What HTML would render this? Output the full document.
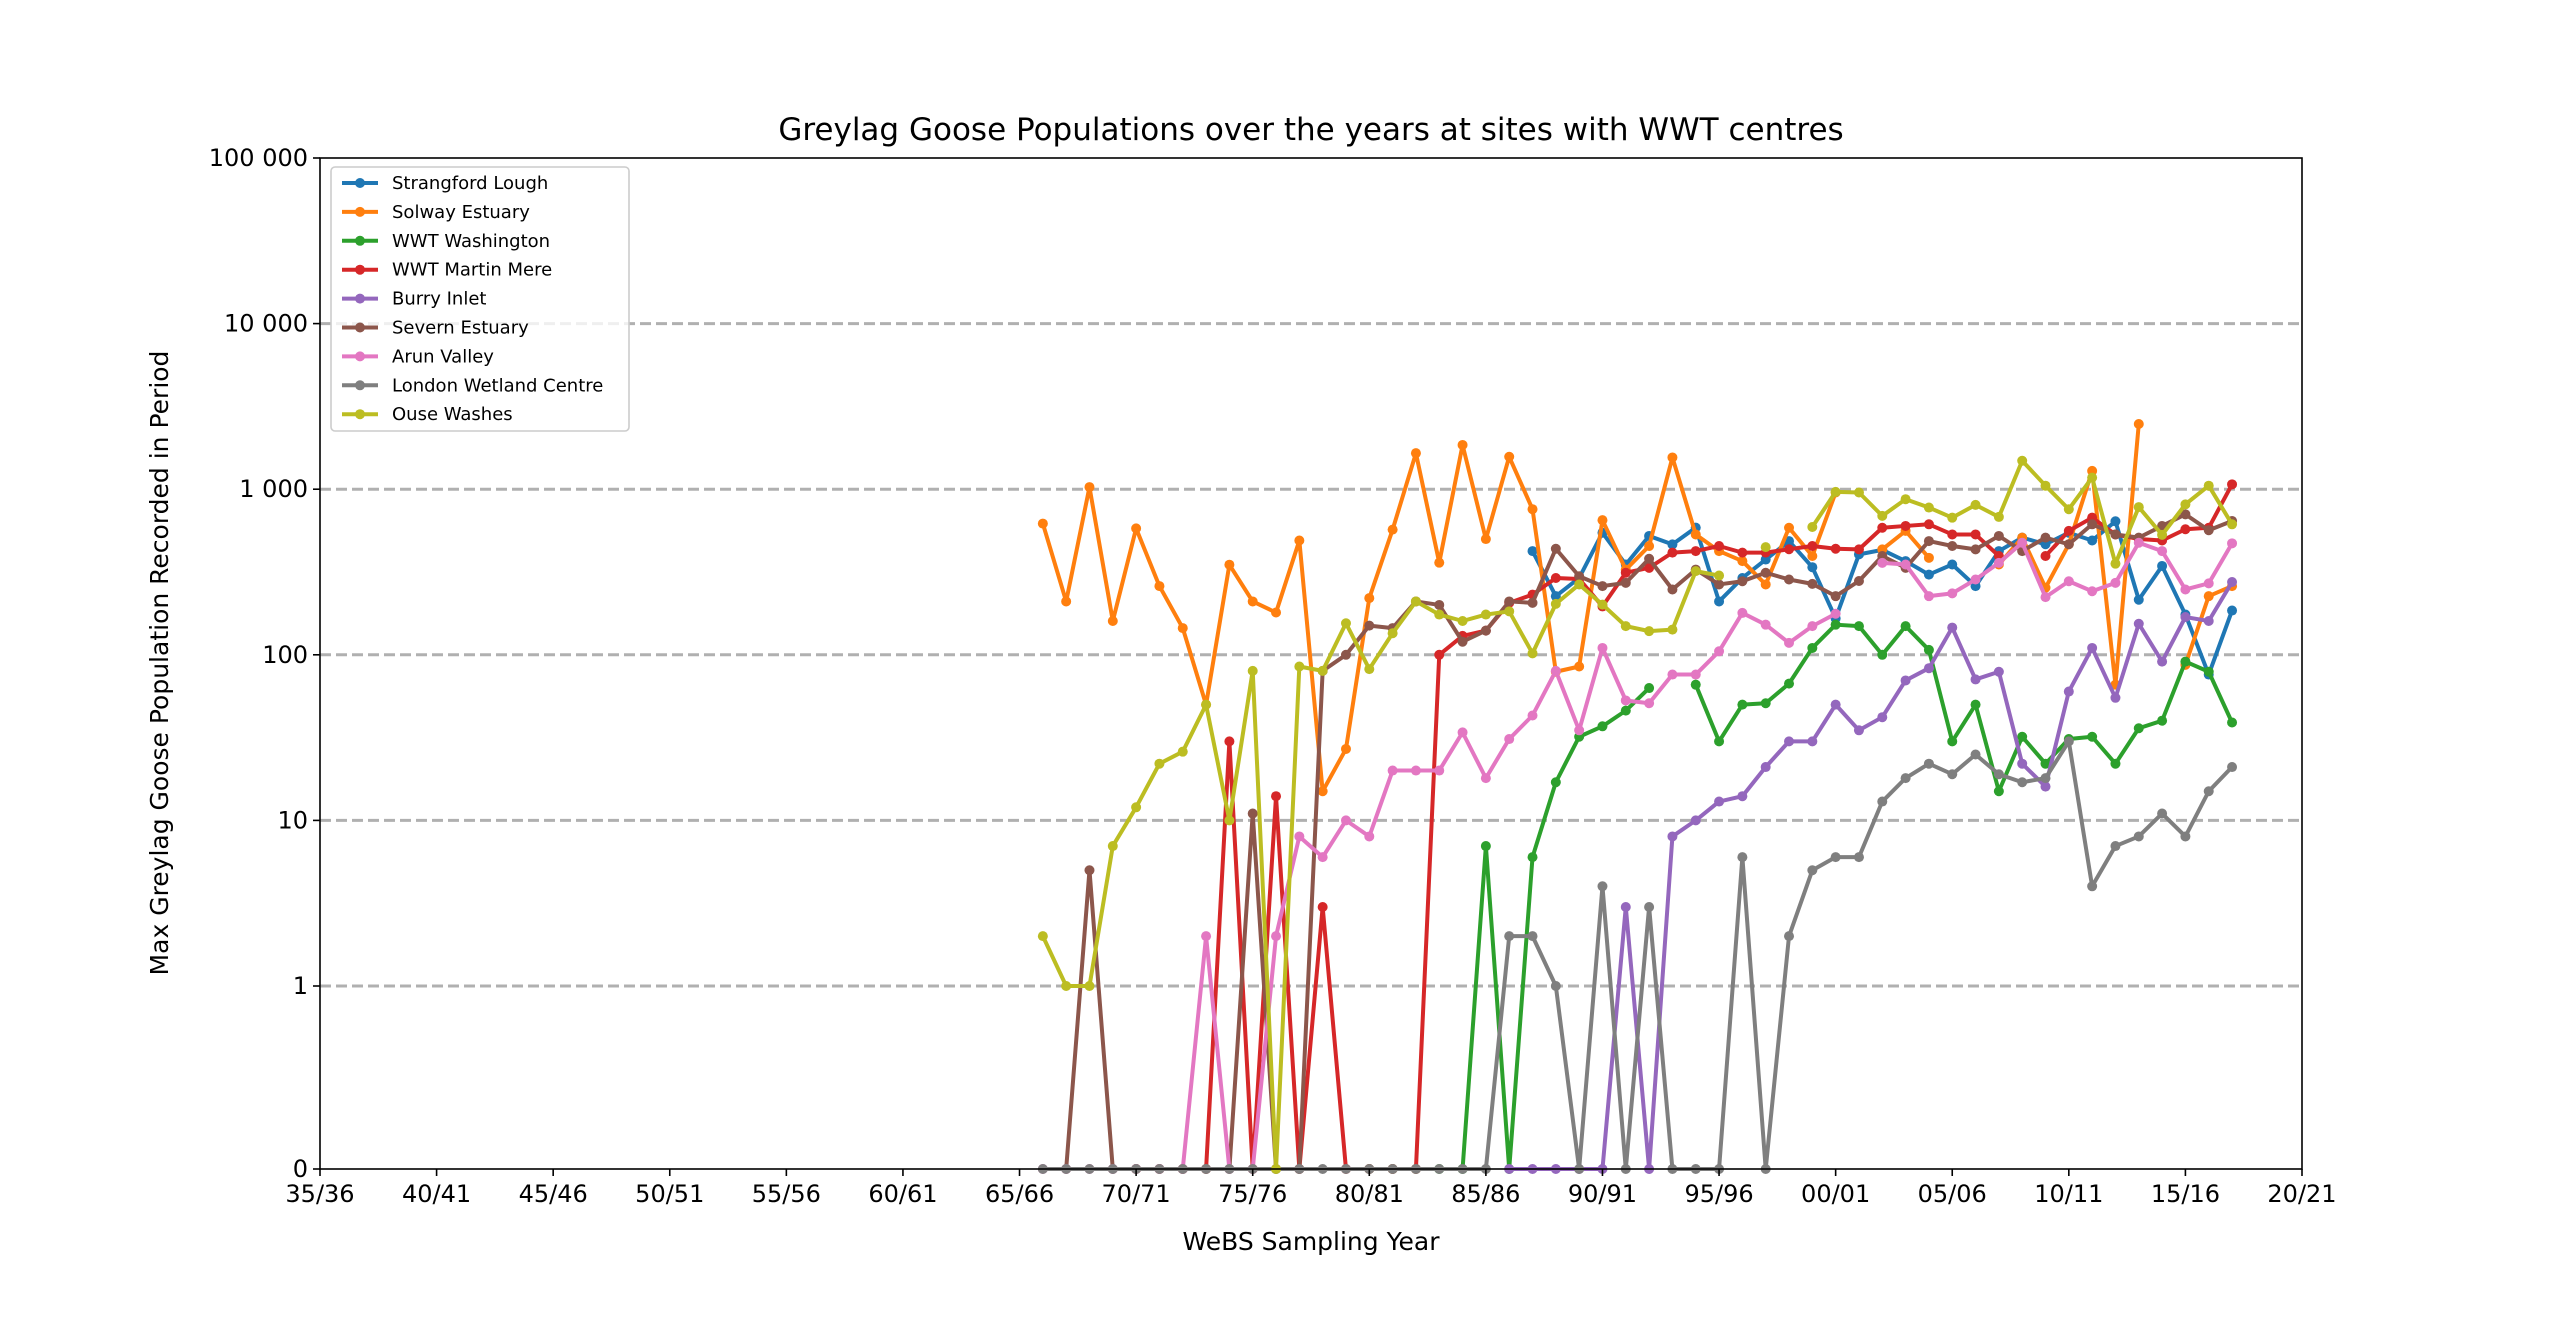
<!DOCTYPE html>
<html><head><meta charset="utf-8"><style>
html,body{margin:0;padding:0;background:#fff;}
svg text{font-family:"DejaVu Sans","Liberation Sans",sans-serif;}
</style></head><body>
<svg id="chart" width="2560" height="1314" xmlns="http://www.w3.org/2000/svg">
<rect width="2560" height="1314" fill="#fff"/>
<text x="1311" y="140" font-size="31" text-anchor="middle">Greylag Goose Populations over the years at sites with WWT centres</text>
<text x="1311" y="1250" font-size="25" text-anchor="middle">WeBS Sampling Year</text>
<text transform="translate(168,663) rotate(-90)" font-size="25" text-anchor="middle">Max Greylag Goose Population Recorded in Period</text>
<g id="grid"></g><g id="series"></g><g id="axes"></g><g id="legend"></g>
</svg>
<script>
const years = [];
for (let y = 1966; y <= 2017; y++) years.push(y);
const xTickYears = [1935,1940,1945,1950,1955,1960,1965,1970,1975,1980,1985,1990,1995,2000,2005,2010,2015,2020];
const xTickLabels = ["35/36","40/41","45/46","50/51","55/56","60/61","65/66","70/71","75/76","80/81","85/86","90/91","95/96","00/01","05/06","10/11","15/16","20/21"];
const yTicks = [0,1,10,100,1000,10000,100000];
const yTickLabels = ["0","1","10","100","1 000","10 000","100 000"];
const seriesNames = ["Strangford Lough","Solway Estuary","WWT Washington","WWT Martin Mere","Burry Inlet","Severn Estuary","Arun Valley","London Wetland Centre","Ouse Washes"];
const seriesColors = ["#1f77b4","#ff7f0e","#2ca02c","#d62728","#9467bd","#8c564b","#e377c2","#7f7f7f","#bcbd22"];
const N = null;
// values per year 1966..2017
const strangford = [N,N,N,N,N,N,N,N,N,N,N,N,N,N,N,N,N,N,N,N,N,423,226,291,546,351,522,464,586,210,291,376,486,338,166,404,430,368,305,351,260,423,510,465,546,490,640,215,344,175,76,185];
const solway = [620,210,1030,160,580,260,145,50,350,210,180,490,15,27,220,570,1650,360,1850,500,1570,757,79,85,650,327,454,1555,533,423,368,266,585,395,955,N,433,560,385,N,N,351,510,254,465,1290,66,2475,N,87,226,260];
const washington = [N,N,N,N,N,N,N,N,N,N,N,N,N,N,0,0,0,0,0,7,0,6,17,32,37,46,63,N,66,30,50,51,67,110,152,149,100,149,107,30,50,15,32,22,31,32,22,36,40,91,79,39];
const martinMere = [N,N,N,N,0,0,0,0,30,0,14,0,3,0,0,0,0,100,130,140,206,231,291,287,196,313,335,414,423,454,414,414,434,454,437,433,585,600,614,533,533,395,N,395,560,673,533,500,490,573,585,1070];
const burry = [N,N,N,N,N,N,N,N,N,N,N,N,N,N,N,N,N,N,N,N,0,0,0,0,0,3,0,8,10,13,14,21,30,30,50,35,42,70,83,146,71,79,22,16,60,110,55,154,91,169,160,275];
const severn = [N,0,5,0,0,0,0,0,0,11,0,0,80,100,150,145,210,200,120,140,210,206,437,298,260,272,380,248,327,266,278,313,285,268,226,279,395,335,486,454,433,522,423,510,465,614,533,510,600,705,565,643];
const arun = [0,0,0,0,0,0,0,2,0,0,2,8,6,10,8,20,20,20,34,18,31,43,80,35,110,53,51,76,76,105,179,152,118,149,177,N,359,351,226,235,285,359,475,223,278,242,272,475,423,248,270,471];
const london = [0,0,0,0,0,0,0,0,0,0,0,0,0,0,0,0,0,0,0,0,2,2,1,0,4,0,3,0,0,0,6,0,2,5,6,6,13,18,22,19,25,19,17,18,30,4,7,8,11,8,15,21];
const ouse = [2,1,1,7,12,22,26,50,10,80,0,85,80,155,82,135,210,175,160,175,183,102,203,266,201,149,139,142,320,301,N,447,N,591,963,955,690,870,775,673,804,680,1485,1050,757,1175,355,780,530,810,1050,614];
const seriesData = [strangford,solway,washington,martinMere,burry,severn,arun,london,ouse];

const L=320,R=2302,T=158,B=1169,Y1=986,DEC=(Y1-T)/5;
function xScale(yr){return L+(yr-1935)*(R-L)/85;}
function yScale(v){return v<=1? B-(B-Y1)*v : Y1-Math.log10(v)*DEC;}
const NS="http://www.w3.org/2000/svg";
function mk(tag,attrs,parent){const e=document.createElementNS(NS,tag);for(const k in attrs)e.setAttribute(k,attrs[k]);parent.appendChild(e);return e;}
const grid=document.getElementById('grid'),ser=document.getElementById('series'),axes=document.getElementById('axes'),leg=document.getElementById('legend');
[1,10,100,1000,10000].forEach(v=>{
  const l=mk('line',{x1:L,x2:R,y1:yScale(v),y2:yScale(v),stroke:'#b0b0b0','stroke-width':3,'stroke-dasharray':'11,5'},grid);
  
  
});
seriesData.forEach((d,i)=>{
  const g=mk('g',{},ser);
  
  
  let seg=[];const segs=[];
  d.forEach((v,j)=>{if(v===null){if(seg.length)segs.push(seg);seg=[];}else seg.push([xScale(years[j]),yScale(v)]);});
  if(seg.length)segs.push(seg);
  segs.forEach(s=>{
    const p=mk('polyline',{points:s.map(q=>q.join(',')).join(' '),fill:'none',stroke:seriesColors[i],'stroke-width':4,'stroke-linejoin':'round'},g);
    
    
    s.forEach(q=>{
      const c=mk('circle',{cx:q[0],cy:q[1],r:5,fill:seriesColors[i]},g);
      
      
    });
  });
});
const frame=mk('rect',{x:L,y:T,width:R-L,height:B-T,fill:'none',stroke:'#000','stroke-width':1.6},axes);


xTickYears.forEach((yr,i)=>{
  const x=xScale(yr);
  mk('line',{x1:x,x2:x,y1:B,y2:B+7,stroke:'#000','stroke-width':1.6},axes);
  const t=mk('text',{x:x,y:B+33,'font-size':24,'text-anchor':'middle'},axes);
  t.textContent=xTickLabels[i];
  
  
});
yTicks.forEach((v,i)=>{
  const y=yScale(v);
  mk('line',{x1:L-7,x2:L,y1:y,y2:y,stroke:'#000','stroke-width':1.6},axes);
  const t=mk('text',{x:L-12,y:y+8,'font-size':24,'text-anchor':'end'},axes);
  t.textContent=yTickLabels[i];
  
  
});
const lb=mk('rect',{x:331,y:167,width:298,height:264,rx:4,fill:'#fff','fill-opacity':0.8,stroke:'#ccc','stroke-width':1.6},leg);


seriesNames.forEach((n,i)=>{
  const y=183+i*28.9;
  const g=mk('g',{},leg);
  
  
  mk('line',{x1:342,x2:378,y1:y,y2:y,stroke:seriesColors[i],'stroke-width':4},g);
  mk('circle',{cx:360,cy:y,r:5,fill:seriesColors[i]},g);
  const t=mk('text',{x:392,y:y+6,'font-size':18},g);
  t.textContent=n;
});
</script>
</body></html>
